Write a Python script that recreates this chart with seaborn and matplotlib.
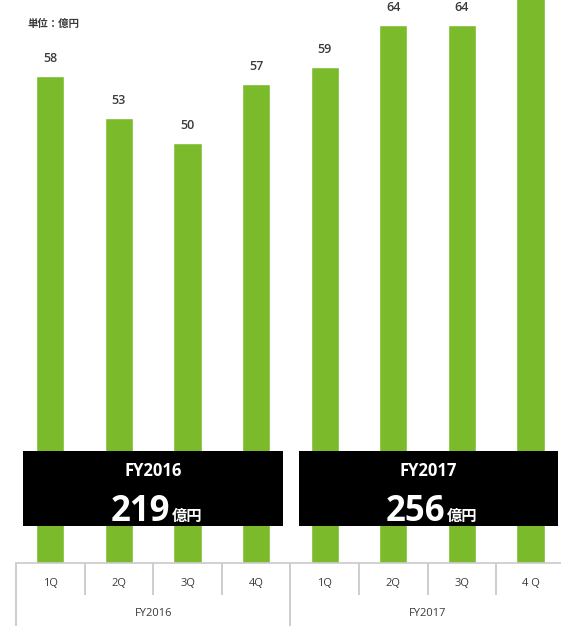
import matplotlib
matplotlib.use("Agg")
import matplotlib.pyplot as plt
from matplotlib.patches import Rectangle
import seaborn as sns
import pandas as pd

# Quarterly values (unit: 100 million yen)
fiscal_years = ["FY2016", "FY2017"]
quarters_2016 = ["1Q", "2Q", "3Q", "4Q"]
quarters_2017 = ["1Q", "2Q", "3Q", "4 Q"]
values_2016 = [58, 53, 50, 57]
values_2017 = [59, 64, 64, 69]
annual_totals = [219, 256]
unit_label = "単位：億円"
yen_unit = "億円"

sns.set_theme(style="white")
plt.rcParams["font.family"] = ["Open Sans", "Noto Sans CJK JP", "DejaVu Sans"]

GREEN = "#7bbb2b"
TEXT = "#3a3a3a"
LINE = "#c9c9c9"

rows = []
for fy, qs, vals in [(fiscal_years[0], quarters_2016, values_2016),
                     (fiscal_years[1], quarters_2017, values_2017)]:
    for q, v in zip(qs, vals):
        rows.append({"slot": f"{fy} {q}", "fy": fy, "quarter": q, "value": v})
df = pd.DataFrame(rows)

W, H = 561, 626
fig = plt.figure(figsize=(W / 100, H / 100), dpi=100)
fig.patch.set_facecolor("white")

# axes geometry in pixels
ax_left, ax_bottom_px, slot_px = 16, 563, 68.6
ax = fig.add_axes([ax_left / W, (H - ax_bottom_px) / H,
                   8 * slot_px / W, ax_bottom_px / H])

sns.barplot(data=df, x="slot", y="value", color=GREEN, width=0.41,
            saturation=1, ax=ax, order=df["slot"].tolist())
ax.set_ylim(0, 67)
ax.set_xlim(-0.5, 7.5)
ax.set_xlabel("")
ax.set_ylabel("")
ax.set_xticks([])
ax.set_yticks([])
for side in ["top", "right", "left"]:
    ax.spines[side].set_visible(False)
ax.spines["bottom"].set_color(LINE)
ax.spines["bottom"].set_linewidth(1.2)

# value labels above bars
for i, v in enumerate(df["value"]):
    ax.annotate(str(v), xy=(i, v), xytext=(0, 14), textcoords="offset pixels",
                ha="center", va="baseline", fontsize=9, fontweight="semibold",
                color=TEXT)

# annual total boxes
px = 1.0 / ax_bottom_px
xt = ax.get_xaxis_transform()
def px_to_data(xp):
    return (xp - ax_left) / slot_px - 0.5

boxes = [(23, 283), (299, 558)]
for (x0, x1), fy, total in zip(boxes, fiscal_years, annual_totals):
    d0, d1 = px_to_data(x0), px_to_data(x1)
    y0 = (ax_bottom_px - 526) * px
    y1 = (ax_bottom_px - 451) * px
    ax.add_patch(Rectangle((d0, y0), d1 - d0, y1 - y0, transform=xt,
                           facecolor="black", edgecolor="none", zorder=5))
    cx = (d0 + d1) / 2
    ax.text(cx, (ax_bottom_px - 471) * px, fy, transform=xt, ha="center",
            va="center", color="white", fontsize=12, fontweight="bold", zorder=6)
    ax.text(cx + 0.25, (ax_bottom_px - 521) * px, str(total), transform=xt,
            ha="right", va="baseline", color="white", fontsize=25,
            fontweight="bold", zorder=6)
    ax.text(cx + 0.27, (ax_bottom_px - 521) * px, yen_unit, transform=xt,
            ha="left", va="baseline", color="white", fontsize=11,
            fontweight="bold", zorder=6)

# category table below the axis
quarter_labels = quarters_2016 + quarters_2017
for i, q in enumerate(quarter_labels):
    ax.text(i, (ax_bottom_px - 584) * px, q, transform=xt, ha="center",
            va="center", fontsize=8, color=TEXT, clip_on=False)
for g, fy in enumerate(fiscal_years):
    ax.text(1.5 + 4 * g, (ax_bottom_px - 613) * px, fy, transform=xt,
            ha="center", va="center", fontsize=8, color=TEXT, clip_on=False)

for k in range(9):
    xd = k - 0.5
    if k in (0, 4, 8):
        yb = (ax_bottom_px - 626) * px
    else:
        yb = (ax_bottom_px - 595) * px
    ax.plot([xd, xd], [0, yb], transform=xt, color=LINE, lw=1.3,
            clip_on=False, solid_capstyle="butt")

fig.text(27 / W, 1 - 25 / H, unit_label, ha="left", va="center",
         fontsize=7.5, fontweight="semibold", color=TEXT)

fig.savefig("out.png", dpi=100, facecolor="white")
